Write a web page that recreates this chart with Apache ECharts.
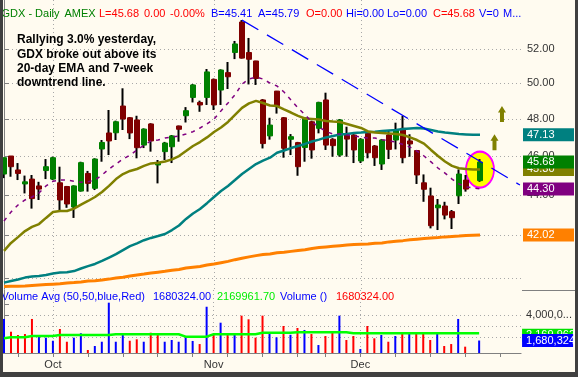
<!DOCTYPE html>
<html>
<head>
<meta charset="utf-8">
<script src="https://cdn.jsdelivr.net/npm/echarts@6/dist/echarts.min.js"></script>
<style>
  html, body { margin: 0; padding: 0; background: #fffbf0; }
  #chart { width: 578px; height: 377px; }
</style>
</head>
<body>
<div id="chart"></div>
<script>
// GDX daily bars, 20 Sep - 26 Dec 2007 (25 Dec is an empty slot on this chart)
const dates = [
  '2007-09-20', '2007-09-21', '2007-09-24', '2007-09-25', '2007-09-26', '2007-09-27', '2007-09-28',
  '2007-10-01', '2007-10-02', '2007-10-03', '2007-10-04', '2007-10-05', '2007-10-08', '2007-10-09',
  '2007-10-10', '2007-10-11', '2007-10-12', '2007-10-15', '2007-10-16', '2007-10-17', '2007-10-18',
  '2007-10-19', '2007-10-22', '2007-10-23', '2007-10-24', '2007-10-25', '2007-10-26', '2007-10-29',
  '2007-10-30', '2007-10-31', '2007-11-01', '2007-11-02', '2007-11-05', '2007-11-06', '2007-11-07',
  '2007-11-08', '2007-11-09', '2007-11-12', '2007-11-13', '2007-11-14', '2007-11-15', '2007-11-16',
  '2007-11-19', '2007-11-20', '2007-11-21', '2007-11-23', '2007-11-26', '2007-11-27', '2007-11-28',
  '2007-11-29', '2007-11-30', '2007-12-03', '2007-12-04', '2007-12-05', '2007-12-06', '2007-12-07',
  '2007-12-10', '2007-12-11', '2007-12-12', '2007-12-13', '2007-12-14', '2007-12-17', '2007-12-18',
  '2007-12-19', '2007-12-20', '2007-12-21', '2007-12-24', '2007-12-25', '2007-12-26'
];
const futureDates = ['2007-12-27', '2007-12-28', '2007-12-31'];

const open = [
  45.06, 46.00, 45.27, 44.55, 44.80, 44.45, 45.24, 44.80, 44.61, 44.42,
  43.39, 44.19, 45.09, 44.33, 46.37, 47.23, 47.24, 48.71, 48.06, 47.94,
  46.58, 47.72, 45.53, 46.23, 46.49, 47.61, 48.17, 49.19, 48.91, 49.19,
  50.22, 49.61, 50.61, 51.79, 53.63, 51.79, 51.29, 49.05, 47.07, 49.55,
  48.06, 46.89, 46.71, 46.45, 47.84, 47.48, 49.05, 46.89, 46.05, 47.12,
  47.12, 45.74, 47.21, 46.53, 45.58, 47.12, 46.85, 47.48, 46.80, 46.29,
  44.61, 43.94, 43.35, 43.44, 43.16, 43.95, 44.75, null, 44.72
];
const high = [
  45.91, 46.00, 45.63, 44.98, 45.01, 44.66, 45.84, 45.96, 45.44, 44.45,
  44.48, 45.70, 45.22, 45.88, 46.85, 48.49, 47.90, 49.71, 48.10, 48.17,
  47.48, 47.76, 45.79, 46.75, 47.12, 47.63, 48.65, 49.95, 49.01, 50.82,
  50.27, 50.80, 51.23, 52.48, 53.75, 52.66, 51.30, 49.10, 48.06, 49.56,
  48.10, 47.17, 46.75, 48.08, 47.90, 48.95, 49.46, 46.95, 47.99, 47.57,
  47.17, 46.95, 47.24, 46.58, 46.90, 47.39, 47.79, 48.17, 47.16, 46.32,
  45.04, 44.36, 43.79, 43.65, 43.24, 45.30, 45.01, null, 45.84
];
const low = [
  44.85, 44.92, 44.75, 44.07, 43.31, 43.74, 44.80, 44.75, 43.24, 43.35,
  42.85, 44.16, 44.16, 44.24, 45.70, 46.05, 46.85, 47.39, 46.90, 45.88,
  46.42, 46.23, 44.58, 45.79, 45.63, 46.76, 47.80, 48.91, 48.39, 48.77,
  48.49, 48.77, 49.67, 51.40, 51.43, 49.93, 49.90, 46.40, 46.87, 48.29,
  45.91, 46.05, 44.97, 45.70, 45.86, 47.21, 46.32, 45.96, 45.96, 45.96,
  45.63, 45.63, 45.88, 45.48, 45.27, 45.84, 46.35, 45.62, 45.96, 44.55,
  43.65, 42.34, 42.26, 42.78, 42.31, 43.54, 44.16, null, 44.66
];
const close = [
  45.91, 45.44, 45.09, 44.66, 43.81, 44.29, 45.44, 45.91, 43.74, 43.54,
  44.45, 45.65, 44.58, 45.84, 46.72, 46.80, 47.84, 47.99, 47.23, 46.44,
  47.44, 46.80, 45.63, 46.69, 47.07, 47.43, 48.45, 49.90, 48.77, 50.65,
  48.77, 50.76, 50.37, 52.30, 51.46, 51.39, 50.27, 46.66, 47.66, 48.73,
  46.41, 47.03, 45.44, 48.05, 46.32, 48.91, 46.58, 46.55, 47.94, 46.90,
  46.32, 46.89, 46.17, 45.91, 46.85, 46.35, 47.39, 45.91, 46.64, 45.01,
  44.28, 42.47, 43.49, 42.99, 42.86, 45.06, 44.29, null, 45.68
];

// moving averages
const ma10 = [
  42.70, 43.14, 43.49, 43.74, 43.89, 44.09, 44.45, 44.69, 44.75, 44.75,
  44.69, 44.64, 44.66, 44.75, 45.01, 45.32, 45.58, 45.84, 46.05, 46.32,
  46.58, 46.80, 46.85, 46.96, 47.01, 47.07, 47.17, 47.30, 47.50, 47.72,
  47.99, 48.44, 48.88, 49.34, 49.95, 50.24, 50.35, 50.24, 50.01, 49.84,
  49.50, 49.05, 48.61, 48.22, 47.83, 47.55, 47.31, 47.17, 47.17, 47.12,
  47.07, 47.01, 46.96, 46.96, 46.87, 46.80, 46.74, 46.61, 46.47, 46.26,
  46.00, 45.69, 45.37, 45.11, 44.80, 44.55, 44.40, 44.35, 44.30
];
const ema20 = [
  41.26, 41.64, 41.92, 42.21, 42.41, 42.55, 42.85, 43.14, 43.19, 43.19,
  43.31, 43.51, 43.69, 43.89, 44.14, 44.45, 44.80, 45.06, 45.22, 45.32,
  45.48, 45.61, 45.65, 45.71, 45.82, 46.00, 46.26, 46.53, 46.74, 46.99,
  47.28, 47.53, 47.83, 48.22, 48.61, 48.86, 49.00, 48.88, 48.74, 48.71,
  48.52, 48.35, 48.16, 48.02, 47.99, 47.96, 47.88, 47.85, 47.83, 47.72,
  47.61, 47.50, 47.31, 47.25, 47.23, 47.20, 47.17, 47.12, 46.99, 46.85,
  46.66, 46.32, 46.00, 45.71, 45.48, 45.36, 45.32, 45.30, 45.30
];
const ma50 = [
  39.79, 39.86, 39.93, 40.02, 40.07, 40.09, 40.14, 40.21, 40.25, 40.27,
  40.32, 40.44, 40.55, 40.65, 40.79, 40.95, 41.11, 41.30, 41.49, 41.62,
  41.77, 41.88, 41.97, 42.07, 42.26, 42.48, 42.80, 43.07, 43.29, 43.58,
  43.89, 44.19, 44.45, 44.75, 45.06, 45.32, 45.58, 45.76, 45.91, 46.17,
  46.29, 46.42, 46.53, 46.64, 46.77, 46.87, 46.99, 47.07, 47.15, 47.17,
  47.23, 47.25, 47.28, 47.30, 47.33, 47.36, 47.39, 47.44, 47.47, 47.50,
  47.47, 47.39, 47.31, 47.25, 47.21, 47.17, 47.15, 47.13, 47.13
];
const ma200 = [
  39.61, 39.62, 39.63, 39.64, 39.66, 39.68, 39.70, 39.72, 39.74, 39.77,
  39.79, 39.82, 39.86, 39.88, 39.91, 39.95, 40.00, 40.04, 40.09, 40.14,
  40.18, 40.23, 40.27, 40.31, 40.36, 40.39, 40.46, 40.50, 40.53, 40.60,
  40.65, 40.71, 40.77, 40.85, 40.92, 40.98, 41.04, 41.09, 41.12, 41.17,
  41.20, 41.24, 41.28, 41.32, 41.38, 41.42, 41.45, 41.48, 41.51, 41.54,
  41.56, 41.58, 41.59, 41.62, 41.64, 41.69, 41.72, 41.75, 41.79, 41.82,
  41.85, 41.88, 41.90, 41.93, 41.95, 41.97, 42.00, 42.01, 42.02
];

const volume = [
  3640000, 2480000, 2180000, 2270000, 3640000, 2090000, 1940000, 1660000, 2730000, 1570000,
  1940000, 2340000, 820000, 1180000, 1570000, 5120000, 1570000, 2180000, 1660000, 1790000,
  1570000, 2390000, 2340000, 1570000, 1730000, 1570000, 1970000, 1640000, 1360000, 4750000,
  2270000, 3300000, 2180000, 2270000, 3940000, 3610000, 1940000, 3940000, 2390000, 1970000,
  3000000, 2200000, 2820000, 2640000, 2270000, 1270000, 2090000, 2390000, 3940000, 1730000,
  2090000, 910000, 3000000, 1880000, 2180000, 1570000, 2090000, 2270000, 2430000, 2390000,
  2390000, 1730000, 2390000, 1180000, 1360000, 3640000, 1120000, null, 1680324
];
const volumeAvg = [
  1880000, 1970000, 1970000, 1970000, 2090000, 2090000, 2090000, 2090000, 2180000, 2180000,
  2180000, 2180000, 2180000, 2180000, 2180000, 2180000, 2250000, 2250000, 2250000, 2250000,
  2250000, 2250000, 2250000, 2250000, 2250000, 2250000, 2030000, 2030000, 2030000, 2030000,
  2250000, 2250000, 2250000, 2250000, 2250000, 2250000, 2250000, 2390000, 2390000, 2390000,
  2390000, 2390000, 2430000, 2430000, 2430000, 2430000, 2430000, 2430000, 2430000, 2430000,
  2340000, 2340000, 2340000, 2340000, 2340000, 2340000, 2340000, 2340000, 2340000, 2340000,
  2340000, 2340000, 2340000, 2340000, 2340000, 2340000, 2340000, 2340000, 2340000
];
const volumeAvgLast = 2169961.70;

// price-axis labels and ticks
const priceTicks = [40, 42, 44, 46, 48, 50, 52];
const priceLabels = [52, 46, 44, 42];      // drawn before the value boxes
const priceLabelsTop = [50, 48];           // drawn after them (they never overlap a box)
const volumeTicks = [4000000, 5000000];
const volumeGrid = [2000000, 3000000, 4000000];

// annotations on the chart
const trendFrom = [34, 53.75];
const trendTo = [73.7, 44.50];
const highlight = [68, 45.29];
const arrows = [[70.07, 46.73], [71.14, 48.27]];

const headerTexts = ['GDX - Daily', 'AMEX', 'L=45.68', '0.00', '-0.00%', 'B=45.41', 'A=45.79',
  'O=0.00', 'Hi=0.00', 'Lo=0.00', 'C=45.68', 'V=0', 'M...'];
const volumeTexts = ['Volume Avg (50,50,blue,Red)', '1680324.00', '2169961.70', 'Volume ()', '1680324.00'];
const note = 'Rallying 3.0% yesterday,\nGDX broke out above its\n20-day EMA and 7-week\ndowntrend line.';

const RED = '#ff0000', BLUE = '#0000ff', GREEN = '#008000', LIME = '#00ee00';
const FONT = 'Arial, "Liberation Sans", sans-serif';
const monthNames = ['Jan', 'Feb', 'Mar', 'Apr', 'May', 'Jun', 'Jul', 'Aug', 'Sep', 'Oct', 'Nov', 'Dec'];

const allDates = dates.concat(futureDates);
const mondays = [], monthStarts = [];
allDates.forEach(function (d, i) {
  if (new Date(d + 'T00:00:00Z').getUTCDay() === 1) mondays.push(i);
  if (i > 0 && d.slice(5, 7) !== allDates[i - 1].slice(5, 7)) monthStarts.push(i);
});

const wickData = [], bodyData = [], volData = [];
dates.forEach(function (d, i) {
  if (open[i] == null) return;
  wickData.push([i, open[i], close[i], low[i], high[i]]);
  bodyData.push([i, open[i], close[i], Math.min(open[i], close[i]), Math.max(open[i], close[i])]);
  let p = i - 1;
  while (p >= 0 && close[p] == null) p--;
  const up = p < 0 || close[i] >= close[p];
  volData.push({ value: [i, volume[i]], itemStyle: { color: up ? BLUE : RED } });
});
const pairs = function (arr) { return arr.map(function (v, i) { return [i, v]; }); };

const last = close.length - 1;
const priceBoxes = [
  { v: ma200[last], s: 'or' },
  { v: ma10[last], s: 'pu' },
  { v: ma50[last], s: 'te' },
  { v: ema20[last], s: 'ol' },
  { v: close[last], s: 'gr' }
];
const boxStyle = function (bg) {
  return { backgroundColor: bg, color: '#fff', fontSize: 11, fontFamily: FONT,
           width: 47, height: 13, lineHeight: 13, padding: [0, 0, 0, 4] };
};
const plainStyle = { color: '#333', fontSize: 11, fontFamily: FONT, padding: [0, 0, 0, 4] };

const xMin = -4 / 7, xMax = 74;
const dotted = { show: true, lineStyle: { color: '#a8a8a8', width: 1, type: [1, 3] } };
const axisGray = { color: '#808080', width: 1 };

const headerX = [1.5, 64.5, 99, 144, 170, 211, 258, 306, 346, 387, 433, 479, 503];
const headerColors = [GREEN, GREEN, RED, RED, RED, BLUE, BLUE, RED, BLUE, BLUE, RED, BLUE, BLUE];
const volumeX = [1.5, 153, 217, 280, 336];
const volumeColors = [BLUE, BLUE, LIME, BLUE, RED];

const graphics = [];
headerTexts.forEach(function (t, i) {
  graphics.push({ type: 'text', x: headerX[i], y: 14, z: 50,
    style: { text: t, fill: headerColors[i], font: '11px ' + FONT, verticalAlign: 'middle' } });
});
volumeTexts.forEach(function (t, i) {
  graphics.push({ type: 'text', x: volumeX[i], y: 297, z: 50,
    style: { text: t, fill: volumeColors[i], font: '11px ' + FONT, verticalAlign: 'middle' } });
});
graphics.push({ type: 'text', x: 17, y: 33, z: 50,
  style: { text: note, fill: '#000', font: 'bold 12px ' + FONT, lineHeight: 14.3, verticalAlign: 'top' } });
graphics.push({ type: 'line', z: 50, shape: { x1: 522, y1: 290.5, x2: 575, y2: 290.5 }, style: { stroke: '#808080', lineWidth: 1 } });
graphics.push({ type: 'rect', z: 100, shape: { x: 0, y: 0, width: 3, height: 377 }, style: { fill: '#404040' } });
graphics.push({ type: 'rect', z: 100, shape: { x: 575, y: 0, width: 3, height: 377 }, style: { fill: '#404040' } });
graphics.push({ type: 'rect', z: 100, shape: { x: 0, y: 372, width: 578, height: 5 }, style: { fill: '#404040' } });

const chart = echarts.init(document.getElementById('chart'));
chart.setOption({
  backgroundColor: '#fffbf0',
  animation: false,
  textStyle: { fontFamily: FONT },
  grid: [
    { left: 0, top: 0, width: 522, height: 289 },
    { left: 0, top: 290, width: 522, height: 63 }
  ],
  xAxis: [
    { type: 'value', gridIndex: 0, min: xMin, max: xMax, position: 'bottom',
      axisLine: { show: false }, axisTick: { show: false, customValues: monthStarts },
      axisLabel: { show: false }, splitLine: dotted },
    { type: 'value', gridIndex: 1, min: xMin, max: xMax, position: 'bottom',
      axisLine: { show: true, lineStyle: axisGray },
      axisTick: { show: true, length: 4, customValues: mondays, lineStyle: axisGray },
      axisLabel: { customValues: monthStarts, margin: 6, color: '#333', fontSize: 11,
        showMinLabel: true, showMaxLabel: true,
        formatter: function (v) { return monthNames[+allDates[Math.round(v)].slice(5, 7) - 1]; } },
      splitLine: { show: false } },
    { type: 'value', gridIndex: 1, min: xMin, max: xMax, position: 'bottom',
      axisLine: { show: false }, axisTick: { show: false, customValues: monthStarts },
      axisLabel: { show: false }, splitLine: dotted }
  ],
  yAxis: [
    { type: 'log', gridIndex: 0, position: 'right', min: 39.5, max: 55,
      axisLine: { show: true, lineStyle: axisGray },
      axisTick: { show: true, length: 5, customValues: priceTicks, lineStyle: axisGray },
      axisLabel: {
        margin: 1, showMinLabel: true, showMaxLabel: true, hideOverlap: false,
        customValues: priceLabels.concat(priceBoxes.map(function (b) { return b.v; }), priceLabelsTop),
        formatter: function (v) {
          const b = priceBoxes.find(function (x) { return Math.abs(x.v - v) < 1e-6; });
          return b ? '{' + b.s + '|' + v.toFixed(2) + '}' : '{p|' + v.toFixed(2) + '}';
        },
        rich: { p: plainStyle, or: boxStyle('#ff8000'), pu: boxStyle('#800080'),
                te: boxStyle('#008080'), ol: boxStyle('#808000'), gr: boxStyle('#008000') }
      },
      splitLine: dotted },
    { type: 'value', gridIndex: 1, position: 'right', min: 545400, max: 6272700,
      axisLine: { show: true, lineStyle: axisGray },
      axisTick: { show: true, length: 5, customValues: volumeTicks, lineStyle: axisGray },
      axisLabel: {
        margin: 1, showMinLabel: true, showMaxLabel: true, hideOverlap: false,
        customValues: [4000000, volumeAvgLast, volume[last], 6000000],
        formatter: function (v) {
          if (v === volumeAvgLast) return '{vg|' + Math.round(v).toLocaleString('en-US') + '}';
          if (v === volume[last]) return '{vb|' + Math.round(v).toLocaleString('en-US') + '}';
          if (v === 4000000) return '{p|4,000,0...}';
          return ' ';
        },
        rich: { p: plainStyle, vg: boxStyle('#00e000'), vb: boxStyle('#0000ff') }
      },
      splitLine: { show: false } },
    { type: 'value', gridIndex: 1, position: 'right', min: 545400, max: 6272700,
      axisLine: { show: false }, axisTick: { show: false, customValues: volumeGrid },
      axisLabel: { show: false }, splitLine: dotted }
  ],
  series: [
    { type: 'scatter', xAxisIndex: 0, yAxisIndex: 0, silent: true, z: 1,
      data: [highlight], symbol: 'circle', symbolSize: [28, 36],
      itemStyle: { color: '#ffff00', borderColor: '#ff00ff', borderWidth: 2, opacity: 1 } },
    { type: 'candlestick', name: 'wick', xAxisIndex: 0, yAxisIndex: 0, silent: true,
      data: wickData, encode: { x: 0, y: [1, 2, 3, 4] }, barWidth: 1,
      itemStyle: { color: '#000', color0: '#000', borderColor: '#000', borderColor0: '#000', borderWidth: 2 } },
    { type: 'candlestick', name: 'GDX', xAxisIndex: 0, yAxisIndex: 0, silent: true,
      data: bodyData, encode: { x: 0, y: [1, 2, 3, 4] }, barWidth: 5,
      itemStyle: { color: '#008000', color0: '#800000', borderColor: '#008000', borderColor0: '#800000', borderWidth: 1 } },
    { type: 'line', xAxisIndex: 0, yAxisIndex: 0, data: pairs(ma200), symbol: 'none', silent: true,
      lineStyle: { color: '#ff8000', width: 3 } },
    { type: 'line', xAxisIndex: 0, yAxisIndex: 0, data: pairs(ma50), symbol: 'none', silent: true,
      lineStyle: { color: '#008080', width: 2.5 } },
    { type: 'line', xAxisIndex: 0, yAxisIndex: 0, data: pairs(ema20), symbol: 'none', silent: true,
      lineStyle: { color: '#808000', width: 2.5 } },
    { type: 'line', xAxisIndex: 0, yAxisIndex: 0, data: pairs(ma10), symbol: 'none', silent: true,
      lineStyle: { color: '#800080', width: 1.5, type: [4, 5] } },
    { type: 'line', xAxisIndex: 0, yAxisIndex: 0, data: [trendFrom, trendTo], symbol: 'none', silent: true,
      lineStyle: { color: '#0000ff', width: 1.3, type: [19, 10] } },
    { type: 'scatter', xAxisIndex: 0, yAxisIndex: 0, silent: true, data: arrows,
      symbol: 'path://M4 0L8 6.5L6 6.5L6 16L2 16L2 6.5L0 6.5Z', symbolSize: [8, 16],
      itemStyle: { color: '#808000', opacity: 1 } },
    { type: 'bar', xAxisIndex: 1, yAxisIndex: 1, data: volData, barWidth: 2, silent: true },
    { type: 'line', xAxisIndex: 1, yAxisIndex: 1, data: pairs(volumeAvg), symbol: 'none', silent: true,
      lineStyle: { color: '#00ff00', width: 2.5 } }
  ],
  graphic: graphics
});
</script>
</body>
</html>
